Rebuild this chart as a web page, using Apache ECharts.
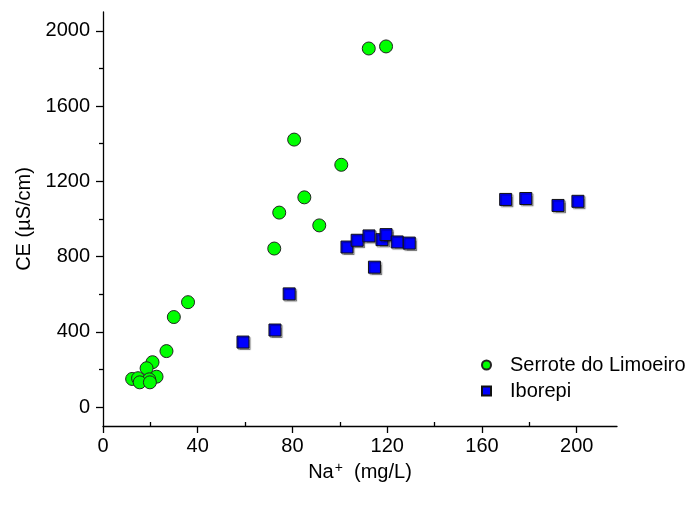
<!DOCTYPE html>
<html>
<head>
<meta charset="utf-8">
<script src="https://cdn.jsdelivr.net/npm/echarts@6/dist/echarts.min.js"></script>
<style>
  html, body { margin: 0; padding: 0; background: #fff; }
  #chart { width: 689px; height: 507px; }
</style>
</head>
<body>
<div id="chart"></div>
<script>
// Serrote do Limoeiro: [Na+ (mg/L), CE (uS/cm)]
var serroteData = [
  [112.2, 1906], [119.5, 1917], [80.7, 1422], [100.6, 1288],
  [85.0, 1115], [74.4, 1034], [91.3, 966], [72.3, 843],
  [35.9, 558], [29.9, 479], [26.8, 298], [20.9, 239],
  [18.4, 207], [22.6, 162], [12.3, 150], [14.8, 154],
  [19.5, 148], [15.5, 132], [19.8, 132]
];
// Iborepi
var iborepiData = [
  [59.1, 346], [72.6, 410], [78.6, 602], [103.0, 851],
  [107.3, 887], [112.3, 910], [117.8, 890], [119.5, 917],
  [124.2, 878], [129.3, 872], [114.6, 744],
  [170.0, 1104], [178.5, 1109], [192.1, 1072], [200.5, 1094]
];

var xTicks = [0, 40, 80, 120, 160, 200];
var xMinor = [20, 60, 100, 140, 180];
var yTicks = [0, 400, 800, 1200, 1600, 2000];
var yMinor = [200, 600, 1000, 1400, 1800];

var font = 'Liberation Sans, Arial, sans-serif';
var lineStyle = { color: '#000', width: 1.3 };
var plain = function (v) { return String(v); };

var chart = echarts.init(document.getElementById('chart'));

chart.setOption({
  animation: false,
  grid: { left: 103, right: 72, top: 12, bottom: 81 },
  legend: {
    orient: 'vertical',
    left: 476,
    top: 350,
    itemWidth: 9,
    itemHeight: 9,
    itemGap: 6,
    textStyle: { fontFamily: font, fontSize: 20, color: '#000', padding: [0, 0, 0, 14] },
    data: ['Serrote do Limoeiro', 'Iborepi']
  },
  xAxis: [{
    type: 'value', min: 0, max: 217,
    name: '{b|Na}{s|+}{b|  (mg/L)}',
    nameLocation: 'middle', nameGap: 31,
    nameTextStyle: {
      rich: {
        b: { fontFamily: font, fontSize: 20, color: '#000' },
        s: { fontFamily: font, fontSize: 14, color: '#000', verticalAlign: 'top', padding: [0, 0, 10, 1] }
      }
    },
    axisLine: { onZero: false, lineStyle: lineStyle },
    axisTick: { customValues: xTicks, length: 7, lineStyle: lineStyle },
    axisLabel: { customValues: xTicks, formatter: plain, fontFamily: font, fontSize: 20, color: '#000', margin: 10 },
    splitLine: { show: false }
  }, {
    // minor ticks only
    type: 'value', min: 0, max: 217, position: 'bottom',
    axisLine: { show: false, onZero: false },
    axisTick: { customValues: xMinor, inside: true, length: 4, lineStyle: lineStyle },
    axisLabel: { show: false },
    splitLine: { show: false }
  }],
  yAxis: [{
    type: 'value', min: -100, max: 2100,
    name: 'CE (µS/cm)',
    nameLocation: 'middle', nameGap: 60,
    nameTextStyle: { fontFamily: font, fontSize: 20, color: '#000' },
    axisLine: { show: true, onZero: false, lineStyle: lineStyle },
    axisTick: { customValues: yTicks, length: 7, lineStyle: lineStyle },
    axisLabel: { customValues: yTicks, formatter: plain, fontFamily: font, fontSize: 20, color: '#000', margin: 13 },
    splitLine: { show: false }
  }, {
    // minor ticks only
    type: 'value', min: -100, max: 2100, position: 'left',
    axisLine: { show: false, onZero: false },
    axisTick: { customValues: yMinor, length: 4, lineStyle: lineStyle },
    axisLabel: { show: false },
    splitLine: { show: false }
  }],
  series: [{
    name: 'Serrote do Limoeiro',
    type: 'scatter',
    symbol: 'circle',
    symbolSize: 13,
    data: serroteData,
    itemStyle: { color: '#00ff00', opacity: 1, borderColor: '#222', borderWidth: 1 }
  }, {
    name: 'Iborepi',
    type: 'scatter',
    symbol: 'rect',
    symbolSize: 12,
    data: iborepiData,
    itemStyle: {
      color: '#0000ff', opacity: 1, borderColor: '#111', borderWidth: 1,
      shadowColor: 'rgba(0,0,0,0.35)', shadowOffsetX: 1.5, shadowOffsetY: 1.5, shadowBlur: 1
    }
  }]
});
</script>
</body>
</html>
